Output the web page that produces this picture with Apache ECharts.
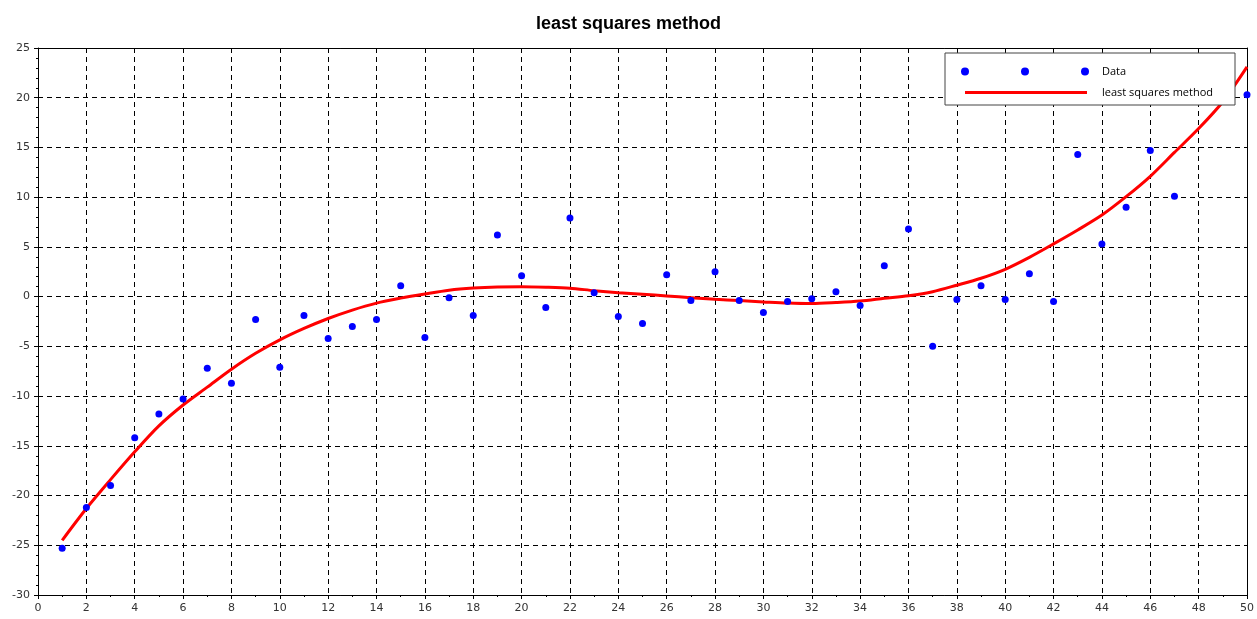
<!DOCTYPE html>
<html>
<head>
<meta charset="utf-8">
<script src="https://cdn.jsdelivr.net/npm/echarts@6/dist/echarts.min.js"></script>
<style>
  html, body { margin: 0; padding: 0; background: #fff; }
  #chart { width: 1257px; height: 619px; }
</style>
</head>
<body>
<div id="chart"></div>
<script>
// x positions of the samples
var xValues = [1, 2, 3, 4, 5, 6, 7, 8, 9, 10, 11, 12, 13, 14, 15, 16, 17, 18, 19, 20,
  21, 22, 23, 24, 25, 26, 27, 28, 29, 30, 31, 32, 33, 34, 35, 36, 37, 38, 39, 40,
  41, 42, 43, 44, 45, 46, 47, 48, 49, 50];

// measured data (blue dots)
var dataValues = [-25.3, -21.2, -19.0, -14.2, -11.8, -10.3, -7.2, -8.7, -2.3, -7.1,
  -1.9, -4.2, -3.0, -2.3, 1.1, -4.1, -0.1, -1.9, 6.2, 2.1,
  -1.1, 7.9, 0.4, -2.0, -2.7, 2.2, -0.4, 2.5, -0.4, -1.6,
  -0.5, -0.2, 0.5, -0.9, 3.1, 6.8, -5.0, -0.3, 1.1, -0.3,
  2.3, -0.5, 14.3, 5.3, 9.0, 14.7, 10.1, 22.0, 19.8, 20.3];

// fitted curve (red line)
var fitValues = [-24.5, -21.3, -18.4, -15.6, -13.0, -10.9, -9.1, -7.3, -5.7, -4.35,
  -3.2, -2.2, -1.35, -0.65, -0.15, 0.27, 0.65, 0.87, 0.98, 1.0,
  0.95, 0.85, 0.6, 0.4, 0.24, 0.07, -0.1, -0.27, -0.4, -0.53,
  -0.65, -0.7, -0.6, -0.45, -0.17, 0.1, 0.5, 1.15, 1.85, 2.75,
  3.95, 5.3, 6.7, 8.2, 10.05, 12.1, 14.5, 16.9, 19.6, 23.1];

var chart = echarts.init(document.getElementById('chart'));

var scatterData = xValues.map(function (x, i) { return [x, dataValues[i]]; });
var lineData = xValues.map(function (x, i) { return [x, fitValues[i]]; });

var labelFont = { color: '#333', fontSize: 11, fontFamily: 'DejaVu Sans' };
var gridDash = { color: '#000', width: 1, type: [5, 4] };

// three dots icon for the "Data" legend entry
var dotsIcon = 'path://M0,4a4,4 0 1,0 8,0a4,4 0 1,0 -8,0Z' +
  'M60,4a4,4 0 1,0 8,0a4,4 0 1,0 -8,0Z' +
  'M120,4a4,4 0 1,0 8,0a4,4 0 1,0 -8,0Z';

var option = {
  animation: false,
  backgroundColor: '#fff',
  title: {
    text: 'least squares method',
    left: 'center',
    top: 10,
    textStyle: { fontSize: 18, fontWeight: 'bold', color: '#000', fontFamily: 'Liberation Sans' }
  },
  grid: { left: 38, right: 9, top: 48, bottom: 24, containLabel: false },
  graphic: [{
    type: 'rect',
    z: 50,
    shape: { x: 945, y: 53, width: 290, height: 52 },
    style: { fill: '#fff', stroke: '#444', lineWidth: 1 }
  }],
  legend: [{
    z: 60,
    left: 956,
    top: 61,
    icon: dotsIcon,
    itemWidth: 128,
    itemHeight: 8,
    data: ['Data'],
    itemStyle: { color: '#0000ff', opacity: 1 },
    textStyle: { fontSize: 11, color: '#000', fontFamily: 'Open Sans', padding: [0, 0, 0, 8] }
  }, {
    z: 60,
    left: 960,
    top: 82,
    icon: 'rect',
    itemWidth: 122,
    itemHeight: 3,
    data: ['least squares method'],
    textStyle: { fontSize: 11, color: '#000', fontFamily: 'Open Sans', padding: [0, 0, 0, 10] }
  }],
  xAxis: [{
    type: 'value',
    min: 0,
    max: 50,
    interval: 2,
    axisLine: { show: true, onZero: false, lineStyle: { color: '#000', width: 1 } },
    axisTick: { show: true, length: 4, lineStyle: { color: '#000' } },
    minorTick: { show: true, splitNumber: 2, length: 2, lineStyle: { color: '#000' } },
    axisLabel: labelFont,
    splitLine: { show: true, lineStyle: gridDash }
  }, {
    type: 'value',
    position: 'top',
    min: 0,
    max: 50,
    interval: 2,
    axisLine: { show: true, onZero: false, lineStyle: { color: '#000', width: 1 } },
    axisTick: { show: true, inside: true, length: 4, lineStyle: { color: '#000' } },
    axisLabel: { show: false },
    splitLine: { show: false }
  }],
  yAxis: [{
    type: 'value',
    min: -30,
    max: 25,
    interval: 5,
    axisLine: { show: true, onZero: false, lineStyle: { color: '#000', width: 1 } },
    axisTick: { show: true, length: 4, lineStyle: { color: '#000' } },
    minorTick: { show: true, splitNumber: 5, length: 2, lineStyle: { color: '#000' } },
    axisLabel: Object.assign({ margin: 8 }, labelFont),
    splitLine: { show: true, lineStyle: gridDash }
  }, {
    type: 'value',
    position: 'right',
    min: -30,
    max: 25,
    interval: 5,
    axisLine: { show: true, onZero: false, lineStyle: { color: '#000', width: 1 } },
    axisTick: { show: false },
    axisLabel: { show: false },
    splitLine: { show: false }
  }],
  series: [{
    name: 'Data',
    type: 'scatter',
    data: scatterData,
    symbol: 'circle',
    symbolSize: 7,
    itemStyle: { color: '#0000ff', opacity: 1 },
    z: 3
  }, {
    name: 'least squares method',
    type: 'line',
    data: lineData,
    smooth: 0.3,
    showSymbol: false,
    symbol: 'none',
    lineStyle: { color: '#ff0000', width: 3 },
    itemStyle: { color: '#ff0000' },
    z: 2
  }]
};

chart.setOption(option);
</script>
</body>
</html>
